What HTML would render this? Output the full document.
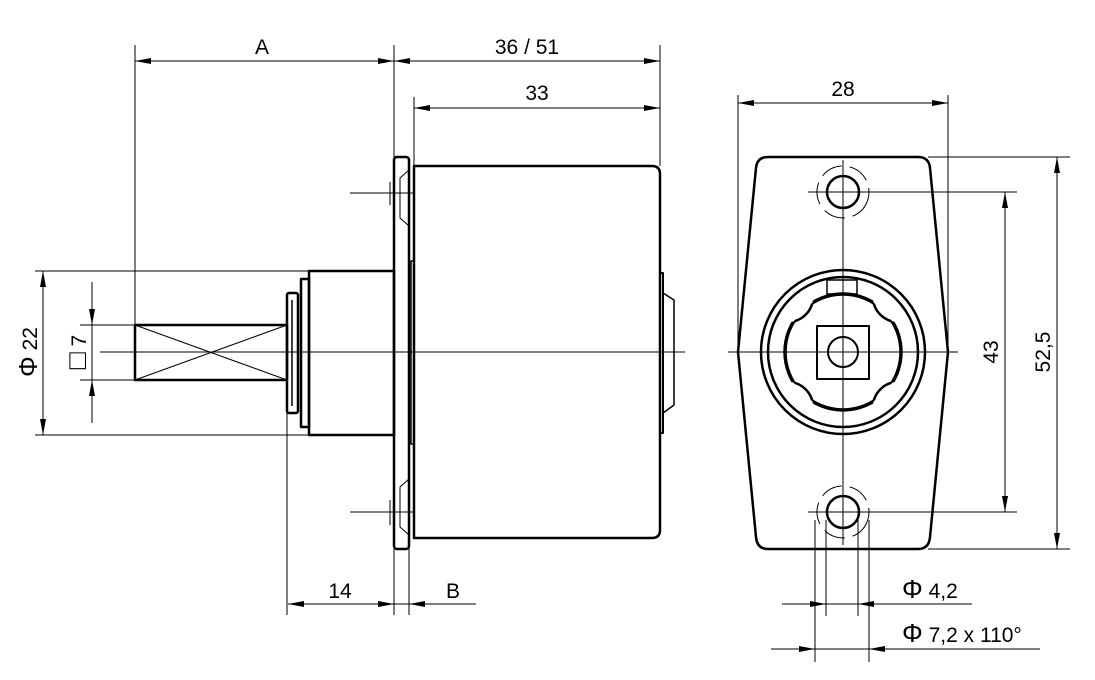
<!DOCTYPE html>
<html><head><meta charset="utf-8"><style>
html,body{margin:0;padding:0;background:#fff}
svg{display:block}
text{font-family:"Liberation Sans Narrow","Liberation Sans",sans-serif;font-size:21px;fill:#000}
</style></head><body>
<svg width="1095" height="680" viewBox="0 0 1095 680" xmlns="http://www.w3.org/2000/svg">
<defs>
<mask id="outN"><rect x="0" y="0" width="1095" height="680" fill="#fff"/>
<g fill="#000"><circle cx="898" cy="297" r="25"/><circle cx="788" cy="297" r="25"/><circle cx="898" cy="407" r="25"/><circle cx="788" cy="407" r="25"/></g></mask>
<clipPath id="inC"><circle cx="843" cy="352" r="58"/></clipPath>
</defs>
<g fill="none" stroke="#000">
<g stroke-width="1">
<line x1="100" y1="352" x2="685" y2="352"/>
<line x1="728" y1="352" x2="958" y2="352"/>
<line x1="843" y1="160" x2="843" y2="545"/>
<line x1="350" y1="193" x2="414" y2="193"/>
<line x1="350" y1="512" x2="414" y2="512"/>
<line x1="390" y1="182" x2="390" y2="205"/>
<line x1="390" y1="500" x2="390" y2="525"/>
<line x1="808" y1="192" x2="1017" y2="192"/>
<line x1="808" y1="512" x2="1017" y2="512"/>
<line x1="135" y1="45" x2="135" y2="325"/>
<line x1="394" y1="45" x2="394" y2="157"/>
<line x1="660" y1="45" x2="660" y2="166"/>
<line x1="414" y1="97" x2="414" y2="166"/>
<line x1="394" y1="549" x2="394" y2="615"/>
<line x1="409" y1="549" x2="409" y2="615"/>
<line x1="287" y1="413" x2="287" y2="615"/>
<line x1="35" y1="271" x2="309" y2="271"/>
<line x1="35" y1="435" x2="309" y2="435"/>
<line x1="80" y1="325" x2="135" y2="325"/>
<line x1="80" y1="380" x2="135" y2="380"/>
<line x1="738" y1="95" x2="738" y2="352"/>
<line x1="948" y1="95" x2="948" y2="352"/>
<line x1="928" y1="157" x2="1070" y2="157"/>
<line x1="928" y1="549" x2="1070" y2="549"/>
<line x1="815" y1="520" x2="815" y2="662"/>
<line x1="826" y1="520" x2="826" y2="616"/>
<line x1="858" y1="520" x2="858" y2="616"/>
<line x1="869" y1="520" x2="869" y2="662"/>
<line x1="135" y1="61" x2="660" y2="61"/>
<line x1="414" y1="108" x2="660" y2="108"/>
<line x1="738" y1="103" x2="948" y2="103"/>
<line x1="1005" y1="192" x2="1005" y2="512"/>
<line x1="1057" y1="157" x2="1057" y2="549"/>
<line x1="43" y1="271" x2="43" y2="435"/>
<line x1="92" y1="282" x2="92" y2="423"/>
<line x1="288" y1="604" x2="409" y2="604"/>
<line x1="409" y1="604" x2="476" y2="604"/>
<line x1="782" y1="604" x2="972" y2="604"/>
<line x1="771" y1="649" x2="1040" y2="649"/>
<line x1="135" y1="325" x2="287" y2="380"/>
<line x1="135" y1="380" x2="287" y2="325"/>
<circle cx="843" cy="192" r="26" stroke-dasharray="22 8" transform="rotate(20 843 192)"/>
<circle cx="843" cy="512" r="26" stroke-dasharray="22 8" transform="rotate(20 843 512)"/>
</g>
<g stroke-width="2.5" stroke-linejoin="round">
<rect x="135" y="325" width="152" height="55"/>
<rect x="287" y="293" width="11" height="120" rx="2"/>
<line x1="292" y1="300" x2="292" y2="406" stroke-width="1.5"/>
<rect x="301" y="279" width="8" height="148"/>
<rect x="309" y="271" width="85" height="164"/>
<rect x="394" y="157" width="15" height="392" rx="3"/>
<path d="M409 170 L400 178 L400 218 L409 226 M409 479 L400 487 L400 527 L409 535" stroke-width="1"/>
<rect x="411" y="261" width="3" height="183" stroke-width="1.5"/>
<path d="M414 166 H652 Q660 166 660 174 V530 Q660 538 652 538 H414 Z"/>
<rect x="660" y="273" width="3" height="160" stroke-width="2"/>
<path d="M663 293 L674 300 V405 L663 413" stroke-width="1.5"/>
<path d="M768 157 H918 Q929 157 930 168 L948 352 L930 537 Q929 549 918 549 H768 Q757 549 756 537 L738 352 L756 168 Q757 157 768 157 Z"/>
<circle cx="843" cy="192" r="16"/>
<circle cx="843" cy="512" r="16"/>
<circle cx="843" cy="352" r="82"/>
<circle cx="843" cy="352" r="75"/>
<rect x="827" y="280" width="30" height="14" stroke-width="1.5"/>
<circle cx="843" cy="352" r="58" stroke-width="3.5" mask="url(#outN)"/>
<g clip-path="url(#inC)" stroke-width="2.5"><circle cx="898" cy="297" r="25"/><circle cx="788" cy="297" r="25"/><circle cx="898" cy="407" r="25"/><circle cx="788" cy="407" r="25"/></g>
<rect x="817" y="326" width="52" height="53" stroke-width="2"/>
<circle cx="843" cy="352" r="15" stroke-width="2"/>
</g>
</g>
<g fill="#000">
<path d="M135 61 l16 -3 v6z"/><path d="M394 61 l-16 -3 v6z"/>
<path d="M394 61 l16 -3 v6z"/><path d="M660 61 l-16 -3 v6z"/>
<path d="M414 108 l16 -3 v6z"/><path d="M660 108 l-16 -3 v6z"/>
<path d="M738 103 l16 -3 v6z"/><path d="M948 103 l-16 -3 v6z"/>
<path d="M1005 192 l-3 16 h6z"/><path d="M1005 512 l-3 -16 h6z"/>
<path d="M1057 157 l-3 16 h6z"/><path d="M1057 549 l-3 -16 h6z"/>
<path d="M43 271 l-3 16 h6z"/><path d="M43 435 l-3 -16 h6z"/>
<path d="M92 325 l-3 -16 h6z"/><path d="M92 380 l-3 16 h6z"/>
<path d="M288 604 l16 -3 v6z"/><path d="M394 604 l-16 -3 v6z"/>
<path d="M409 604 l16 -3 v6z"/>
<path d="M826 604 l-16 -3 v6z"/><path d="M858 604 l16 -3 v6z"/>
<path d="M815 649 l-16 -3 v6z"/><path d="M869 649 l16 -3 v6z"/>
</g>
<text x="262" y="54" text-anchor="middle">A</text>
<text x="527" y="54" text-anchor="middle">36 / 51</text>
<text x="537" y="100" text-anchor="middle">33</text>
<text x="843" y="96" text-anchor="middle">28</text>
<text x="340" y="598" text-anchor="middle">14</text>
<text x="453" y="598" text-anchor="middle">B</text>
<text transform="translate(998 352) rotate(-90)" text-anchor="middle">43</text>
<text transform="translate(1050 352) rotate(-90)" text-anchor="middle">52,5</text>
<text transform="translate(37 352) rotate(-90)" text-anchor="middle"><tspan font-size="26">Φ</tspan> 22</text>
<text transform="translate(86 352) rotate(-90)" text-anchor="middle"><tspan font-size="28">□</tspan> 7</text>
<text x="902" y="598"><tspan font-size="26">Φ</tspan> 4,2</text>
<text x="902" y="642"><tspan font-size="26">Φ</tspan> 7,2 x 110°</text>
</svg>
</body></html>
